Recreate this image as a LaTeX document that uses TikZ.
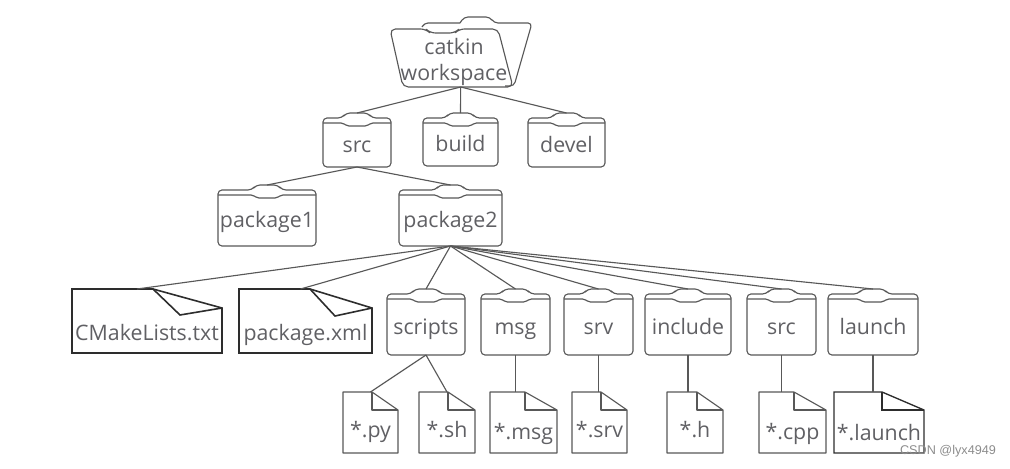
\documentclass[tikz,border=0pt]{standalone}
\usepackage{fontspec}
\setmainfont{Open Sans}
\newfontfamily\markfont{Liberation Sans}

\definecolor{inkline}{RGB}{88,88,88}
\definecolor{darkline}{RGB}{45,45,45}
\definecolor{inktext}{RGB}{96,96,100}

\tikzset{every picture/.style={line width=0.75pt}}
\tikzset{
  shapeline/.style={draw=inkline,line width=0.85pt,line join=round},
  heavyline/.style={draw=darkline,line width=1.2pt,line join=miter},
  midline/.style={draw=darkline,line width=1pt,line join=miter},
  linkline/.style={draw=inkline,line width=0.85pt},
  boxtext/.style={inner sep=0pt,outer sep=0pt,text=inktext,font=\fontsize{16}{20}\selectfont,text depth=0pt},
  foldertext/.style={boxtext,text height=18.5pt},
  filetext/.style={boxtext,text height=23pt},
  bignotetext/.style={boxtext,text height=29.5pt},
}

% name, left, tab top, right, bottom, text
\newcommand{\folder}[6]{
  \node [foldertext,minimum width={(#4-#2)*0.75pt},minimum height={(#5-#3)*0.75pt}] (#1) at ({(#2+#4)/2},{(#3+#5)/2}) {#6};
  \draw [shapeline,rounded corners=3pt] (#2,#3+5) -- (#2,#5) -- (#4,#5) -- (#4,#3+5) -- ({(#2+#4)/2+15},#3+5) -- ({(#2+#4)/2+11},#3) -- ({(#2+#4)/2-11},#3) -- ({(#2+#4)/2-15},#3+5) -- cycle;
  \draw [shapeline,rounded corners=1.5pt] (#2,#3+10) -- ({(#2+#4)/2-14},#3+10) -- ({(#2+#4)/2-10},#3+13) -- ({(#2+#4)/2+10},#3+13) -- ({(#2+#4)/2+14},#3+10) -- (#4,#3+10);
}
% line style, name, left, right, fold x, text
\newcommand{\filenote}[7][]{
  \node [filetext,minimum width={(#5-#4)*0.75pt},minimum height=45.75pt,#1] (#3) at ({(#4+#5)/2},422.5) {#7};
  \draw [#2] (#4,392) -- (#6,392) -- (#5,410) -- (#5,453) -- (#4,453) -- cycle;
  \draw [#2] (#6,392) -- (#6,410) -- (#5,410);
}
\newcommand{\bignote}[7]{
  \node [bignotetext,minimum width={(#3-#2)*0.75pt},minimum height=48pt] (#1) at ({(#2+#3)/2},321) {#7};
  \draw [heavyline] (#2,289) -- (#4,289) -- (#3,308) -- (#3,353) -- (#2,353) -- cycle;
  \draw [heavyline] (#4,289) -- (#5,#6) -- (#3,308);
}

\begin{document}
\begin{tikzpicture}[x=0.75pt,y=0.75pt,yscale=-1,xscale=1]
    \useasboundingbox (0,0) rectangle (1010,468);

    % Workspace
    \draw [shapeline,rounded corners=3pt] (460,23) -- (464,17) -- (490,17) -- (494,23) -- (532,23) -- (514,86) -- (505,86);
    \draw [shapeline,rounded corners=3pt] (422,27) -- (424,23) -- (460,23);
    \draw [shapeline,rounded corners=4pt] (390,29) -- (426,29) -- (430,33) -- (455,33) -- (459,29) -- (498,29) -- (513,87) -- (403,87) -- cycle;
    \node [boxtext,align=center,minimum width=96pt,minimum height=52.5pt,text height=43pt] (catkin) at (454,52) {catkin\\workspace};
    \coordinate (catkinout) at ([xshift=5pt]catkin.south);

    % Folders
    \folder{src}{323}{113}{391}{167}{src}
    \folder{build}{423}{113}{498}{166}{build}
    \folder{devel}{528}{113}{605}{167}{devel}
    \folder{packageone}{218}{185}{316}{246}{package1}
    \folder{packagetwo}{399}{185}{502}{246}{package2}
    \folder{scripts}{387}{289}{465}{355}{scripts}
    \folder{msg}{481}{289}{550}{355}{msg}
    \folder{srv}{564}{289}{633}{355}{srv}
    \folder{include}{645}{289}{731}{355}{include}
    \folder{srcb}{747}{289}{816}{355}{src}
    \folder{launch}{828}{289}{918}{355}{launch}

    % Files
    \bignote{cmake}{72}{222}{153}{180}{315}{CMakeLists.txt}
    \bignote{xml}{239}{372}{310}{335}{316}{package.xml}
    \filenote{shapeline}{py}{343}{398}{372}{*.py}
    \filenote{shapeline}{sh}{419}{475}{448}{*.sh}
    \filenote[text height=26pt]{shapeline}{hmsg}{490}{557}{525}{*.msg}
    \filenote{shapeline}{hsrv}{572}{627}{601}{*.srv}
    \filenote{shapeline}{hh}{667}{723}{697}{*.h}
    \filenote[text height=26pt]{shapeline}{cpp}{759}{826}{794}{*.cpp}
    \filenote[text height=27pt]{midline}{hlaunch}{834}{924}{882}{*.launch}

    % Links
    \foreach \child in {src,build,devel}
      \draw [linkline] (catkinout) -- (\child.north);
    \foreach \child in {packageone,packagetwo}
      \draw [linkline] (src.south) -- (\child.north);
    \draw [linkline] (packagetwo.south) -- ([xshift=-7.5pt]cmake.north);
    \draw [linkline] (packagetwo.south) -- ([xshift=-3.75pt]xml.north);
    \foreach \child in {scripts,msg,srv,include,srcb,launch}
      \draw [linkline] (packagetwo.south) -- (\child.north);
    \foreach \child in {py,sh}
      \draw [linkline] (scripts.south) -- (\child.north);
    \draw [linkline] (msg.south) -- (msg.south |- hmsg.north);
    \draw [linkline] (srv.south) -- (srv.south |- hsrv.north);
    \draw [linkline] (include.south) -- (include.south |- hh.north);
    \draw [linkline] (srcb.south) -- (srcb.south |- cpp.north);
    \draw [linkline] (launch.south) -- (launch.south |- hlaunch.north);

    % Text Node
    \node [inner sep=0pt,text=black!45,font=\markfont\fontsize{9.5}{11}\selectfont] (mark) at (948,451) {CSDN @lyx4949};
\end{tikzpicture}
\end{document}
